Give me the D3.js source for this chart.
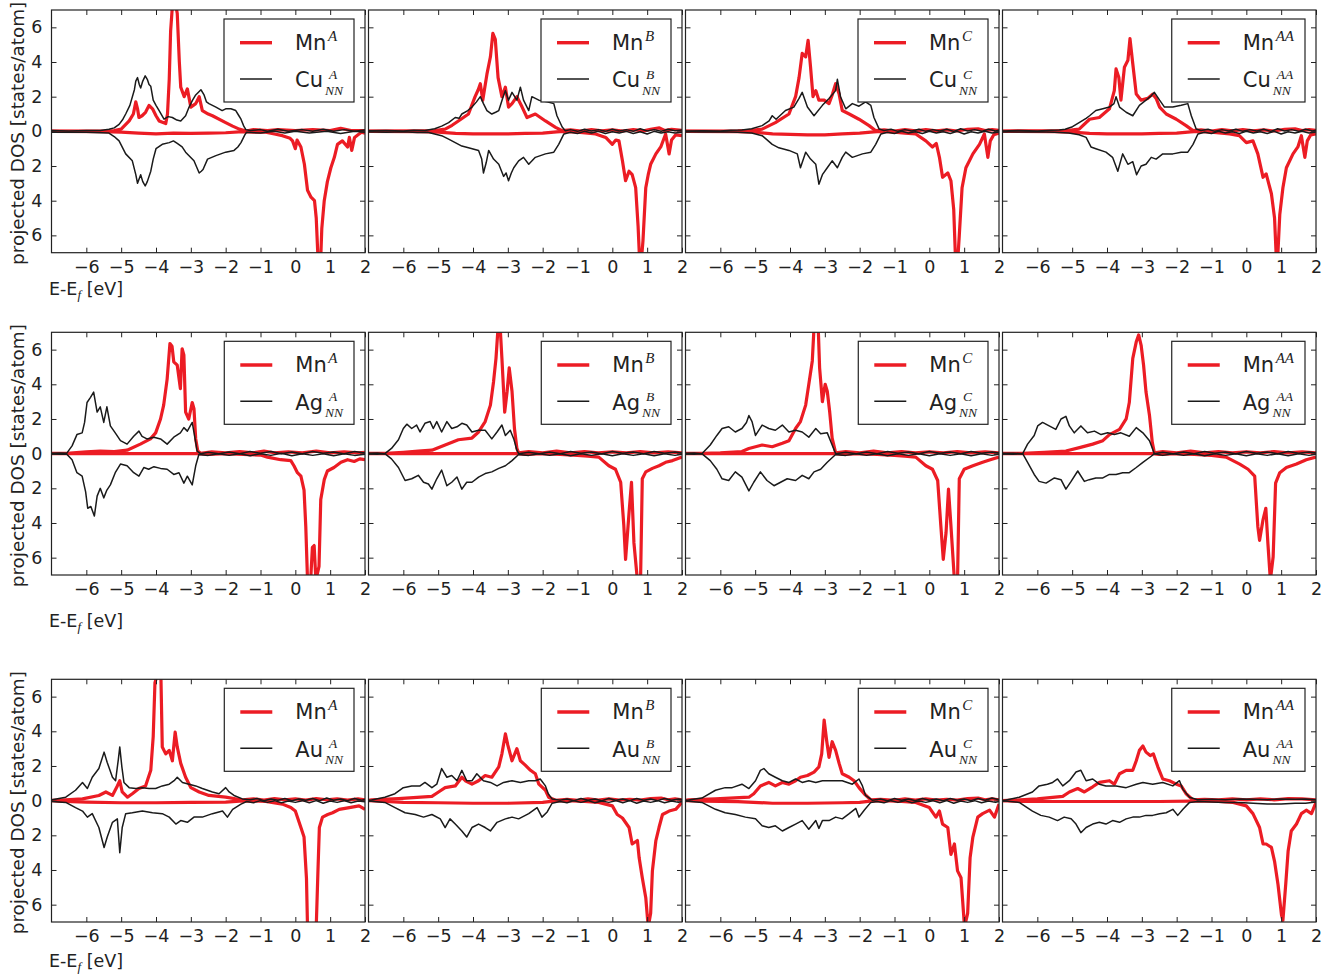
<!DOCTYPE html>
<html><head><meta charset="utf-8">
<script src="https://cdn.jsdelivr.net/npm/d3@7"></script>
<style>body{margin:0;background:#fff}svg{display:block}</style>
</head><body>
<svg id="c" width="1335" height="977"></svg>
<script>
// ---------- axis ticks ----------
const xTicks = [-6,-5,-4,-3,-2,-1,0,1,2];
const yTicks = [-6,-4,-2,0,2,4,6];
const yTickLabels = ["6","4","2","0","2","4","6"];
const elements = ["Cu","Ag","Au"];
const sites = ["A","B","C","AA"];

// ---------- Cu row ----------
const nnUp_CuA = [[-7,0.05],[-6.5,0.02],[-6,0.05],[-5.6,0.05],[-5.35,0.12],[-5.2,0.2],[-5.06,0.4],[-4.95,0.7],[-4.87,1.0],[-4.75,1.5],[-4.62,2.4],[-4.58,2.9],[-4.53,3.1],[-4.48,2.7],[-4.44,2.5],[-4.38,2.9],[-4.31,3.2],[-4.25,3.0],[-4.2,2.7],[-4.15,2.6],[-4.08,1.8],[-4.0,1.5],[-3.91,1.2],[-3.77,0.7],[-3.65,0.85],[-3.53,0.8],[-3.4,0.65],[-3.29,0.6],[-3.15,0.9],[-3.05,1.4],[-2.95,1.8],[-2.86,2.1],[-2.71,2.4],[-2.62,2.1],[-2.55,1.7],[-2.48,1.6],[-2.38,1.5],[-2.28,1.4],[-2.1,1.2],[-2.0,1.3],[-1.85,1.3],[-1.71,1.2],[-1.62,0.9],[-1.56,0.7],[-1.48,0.3],[-1.42,0.1],[-1.3,0.05],[-1.0,0.1],[-0.8,0.0],[-0.5,0.12],[-0.2,0.0],[0.2,0.1],[0.5,0.0],[0.8,0.12],[1.1,0.0],[1.4,0.1],[1.7,0.0],[2,0.08]];
const nnDn_CuA = [[-7,-0.05],[-6,-0.05],[-5.35,-0.1],[-5.2,-0.3],[-5.06,-0.55],[-4.87,-1.3],[-4.68,-1.7],[-4.58,-2.5],[-4.53,-3.0],[-4.44,-2.5],[-4.38,-2.9],[-4.31,-3.15],[-4.25,-2.9],[-4.15,-2.3],[-4.08,-1.6],[-4.0,-1.0],[-3.82,-0.75],[-3.62,-0.65],[-3.5,-0.55],[-3.39,-0.7],[-3.25,-0.9],[-3.15,-1.2],[-2.91,-1.7],[-2.76,-2.4],[-2.7,-2.3],[-2.65,-2.2],[-2.52,-1.6],[-2.28,-1.4],[-2.0,-1.2],[-1.76,-1.1],[-1.65,-0.9],[-1.56,-0.65],[-1.45,-0.2],[-1.4,-0.05],[-1,-0.1],[-0.6,0],[-0.3,-0.1],[0,0],[0.4,-0.1],[0.9,0.0],[1.3,-0.12],[1.7,0],[2,-0.05]];
const mnUp_CuA = [[-7,0.02],[-5.5,0.02],[-5.2,0.05],[-5.0,0.13],[-4.77,0.6],[-4.65,1.0],[-4.58,1.7],[-4.53,1.3],[-4.49,0.8],[-4.4,0.9],[-4.3,1.1],[-4.2,1.5],[-4.1,1.3],[-4.0,0.9],[-3.91,0.6],[-3.72,0.45],[-3.67,1.0],[-3.62,3.0],[-3.58,5.8],[-3.52,7.5],[-3.45,7.5],[-3.39,6.8],[-3.33,4.0],[-3.29,2.55],[-3.19,2.0],[-3.1,2.45],[-3.0,1.4],[-2.86,1.6],[-2.76,2.0],[-2.67,1.2],[-2.5,1.0],[-2.38,0.9],[-2.0,0.5],[-1.8,0.3],[-1.61,0.13],[-1.42,0.02],[-1.2,0.1],[-0.8,0.05],[-0.5,0.1],[0,0.05],[0.5,0.1],[1.0,0.05],[1.3,0.18],[1.6,0.05],[2,0.05]];
const mnDn_CuA = [[-7,0],[-5.5,-0.02],[-5.0,-0.05],[-4.5,-0.1],[-4.0,-0.15],[-3.5,-0.1],[-3.0,-0.12],[-2.5,-0.1],[-2.0,-0.08],[-1.5,-0.02],[-1.2,-0.05],[-0.85,-0.05],[-0.6,-0.15],[-0.37,-0.25],[-0.15,-0.4],[-0.08,-0.55],[0.0,-1.0],[0.05,-0.5],[0.16,-0.9],[0.26,-1.9],[0.35,-3.4],[0.45,-3.8],[0.55,-4.0],[0.6,-5.0],[0.65,-7.3],[0.73,-7.3],[0.76,-5.6],[0.83,-4.0],[0.92,-2.9],[1.02,-2.1],[1.12,-1.5],[1.21,-0.75],[1.35,-0.55],[1.5,-0.9],[1.55,-0.35],[1.62,-1.1],[1.7,-0.35],[1.8,-0.2],[1.9,-0.05],[2,-0.1]];

const nnUp_CuB = [[-7,0.03],[-6.5,0.05],[-6,0.02],[-5.7,0.06],[-5.38,0.05],[-5.1,0.15],[-4.9,0.3],[-4.7,0.5],[-4.51,0.8],[-4.4,0.75],[-4.32,1.0],[-4.15,1.2],[-4.03,1.4],[-3.9,1.7],[-3.79,2.0],[-3.7,1.6],[-3.6,1.2],[-3.46,1.0],[-3.35,1.1],[-3.26,1.2],[-3.15,1.9],[-3.07,2.35],[-2.98,1.8],[-2.88,2.25],[-2.74,1.8],[-2.64,2.55],[-2.55,1.8],[-2.4,1.2],[-2.31,2.0],[-2.11,1.8],[-1.87,1.7],[-1.68,1.6],[-1.59,0.9],[-1.44,0.25],[-1.35,0.04],[-1.2,0.1],[-1.0,0.0],[-0.8,0.12],[-0.6,0.02],[-0.4,0.1],[-0.2,0.0],[0,0.12],[0.2,0.02],[0.4,0.1],[0.6,0.0],[0.8,0.15],[1.0,0.02],[1.2,0.1],[1.4,0.0],[1.6,0.12],[1.8,0.03],[2,0.08]];
const nnDn_CuB = [[-7,-0.03],[-6.5,-0.05],[-6,-0.02],[-5.6,-0.06],[-5.3,-0.05],[-5.1,-0.15],[-4.9,-0.25],[-4.7,-0.45],[-4.51,-0.65],[-4.32,-0.85],[-4.13,-0.95],[-3.84,-1.1],[-3.75,-1.6],[-3.7,-2.4],[-3.62,-1.8],[-3.55,-1.1],[-3.41,-1.6],[-3.26,-1.9],[-3.12,-2.6],[-3.05,-2.4],[-2.98,-2.85],[-2.9,-2.4],[-2.83,-2.1],[-2.69,-1.7],[-2.55,-1.5],[-2.4,-1.9],[-2.21,-1.5],[-1.92,-1.3],[-1.68,-1.2],[-1.54,-0.75],[-1.39,-0.15],[-1.2,-0.05],[-1.0,-0.12],[-0.8,0.0],[-0.6,-0.1],[-0.4,0.0],[-0.2,-0.12],[0,-0.02],[0.2,-0.1],[0.4,0.0],[0.6,-0.12],[0.8,-0.02],[1.0,-0.15],[1.2,0.0],[1.4,-0.1],[1.6,-0.02],[1.8,-0.1],[2,-0.05]];
const mnUp_CuB = [[-7,0.02],[-5.5,0.03],[-5.1,0.05],[-4.8,0.13],[-4.6,0.35],[-4.42,0.6],[-4.13,1.0],[-3.94,2.0],[-3.85,2.4],[-3.79,2.75],[-3.72,1.8],[-3.6,3.3],[-3.5,4.3],[-3.43,5.65],[-3.36,5.3],[-3.28,3.1],[-3.17,2.0],[-3.07,2.55],[-2.98,1.4],[-2.88,1.6],[-2.74,2.0],[-2.59,1.4],[-2.45,0.8],[-2.21,1.0],[-1.92,0.6],[-1.63,0.23],[-1.44,0.04],[-1.2,0.08],[-0.9,0.02],[-0.6,0.1],[-0.3,0.03],[0,0.08],[0.3,0.02],[0.6,0.1],[0.9,0.03],[1.1,0.12],[1.35,0.2],[1.5,0.05],[1.7,0.12],[2,0.05]];
const mnDn_CuB = [[-7,0],[-5.5,-0.02],[-5.0,-0.05],[-4.5,-0.12],[-4.0,-0.15],[-3.5,-0.15],[-3.0,-0.15],[-2.5,-0.12],[-2.0,-0.1],[-1.6,-0.03],[-1.4,0],[-1.0,-0.05],[-0.7,-0.1],[-0.48,-0.15],[-0.19,-0.35],[0,-0.75],[0.1,-0.5],[0.19,-0.55],[0.29,-1.7],[0.38,-2.85],[0.48,-2.3],[0.57,-2.5],[0.67,-3.25],[0.74,-5.5],[0.78,-7.3],[0.84,-7.3],[0.88,-6.3],[0.96,-3.25],[1.03,-2.5],[1.1,-1.9],[1.25,-1.3],[1.39,-0.9],[1.53,-0.15],[1.63,-1.3],[1.7,-0.5],[1.82,-0.2],[2,-0.25]];

const nnUp_CuC = [[-7,0.02],[-6.5,0.04],[-6,0.02],[-5.7,0.06],[-5.38,0.08],[-5.1,0.15],[-4.8,0.33],[-4.6,0.6],[-4.51,0.9],[-4.4,0.7],[-4.13,1.2],[-3.89,1.4],[-3.74,1.9],[-3.65,2.25],[-3.5,1.4],[-3.31,0.9],[-3.07,1.5],[-2.88,1.9],[-2.69,2.35],[-2.64,3.0],[-2.55,2.0],[-2.4,1.3],[-2.21,1.6],[-2.02,1.45],[-1.83,1.7],[-1.68,1.5],[-1.59,0.8],[-1.44,0.13],[-1.3,0.05],[-1.1,0.12],[-0.9,0.0],[-0.7,0.1],[-0.5,0.02],[-0.3,0.12],[-0.1,0.0],[0.1,0.1],[0.3,0.02],[0.5,0.12],[0.7,0.0],[0.9,0.15],[1.1,0.02],[1.3,0.1],[1.5,0.0],[1.7,0.12],[1.9,0.02],[2,0.06]];
const nnDn_CuC = [[-7,-0.02],[-6.5,-0.04],[-6,-0.02],[-5.5,-0.05],[-5.1,-0.1],[-4.8,-0.25],[-4.51,-0.75],[-4.32,-0.95],[-4.03,-1.1],[-3.79,-1.3],[-3.7,-2.1],[-3.55,-1.2],[-3.41,-1.6],[-3.26,-1.9],[-3.17,-3.05],[-3.07,-2.5],[-2.93,-2.1],[-2.79,-1.7],[-2.64,-2.1],[-2.5,-1.5],[-2.4,-1.2],[-2.21,-1.5],[-1.92,-1.3],[-1.68,-1.2],[-1.54,-0.75],[-1.39,-0.15],[-1.2,-0.05],[-1.0,-0.12],[-0.8,0.0],[-0.6,-0.1],[-0.4,-0.02],[-0.2,-0.12],[0,0.0],[0.2,-0.1],[0.4,-0.02],[0.6,-0.12],[0.8,0.0],[1.0,-0.15],[1.2,-0.02],[1.4,-0.1],[1.6,0.0],[1.8,-0.1],[2,-0.04]];
const mnUp_CuC = [[-7,0.02],[-5.5,0.03],[-5.1,0.06],[-4.8,0.13],[-4.42,0.5],[-4.03,1.0],[-3.84,2.0],[-3.74,3.1],[-3.65,4.5],[-3.55,4.3],[-3.48,5.25],[-3.41,3.7],[-3.34,2.0],[-3.26,2.35],[-3.17,1.8],[-3.02,1.8],[-2.88,1.6],[-2.78,2.15],[-2.69,2.75],[-2.59,2.15],[-2.5,1.2],[-2.3,1.0],[-2.02,0.7],[-1.73,0.33],[-1.54,0.04],[-1.3,0.08],[-1.0,0.02],[-0.7,0.1],[-0.4,0.03],[-0.1,0.1],[0.2,0.03],[0.5,0.08],[0.8,0.02],[1.1,0.12],[1.4,0.15],[1.6,0.05],[1.8,0.1],[2,0.05]];
const mnDn_CuC = [[-7,0],[-5.5,-0.02],[-5.0,-0.05],[-4.5,-0.15],[-4.0,-0.18],[-3.5,-0.2],[-3.0,-0.2],[-2.5,-0.15],[-2.0,-0.1],[-1.6,-0.03],[-1.4,0],[-1.0,-0.05],[-0.7,-0.1],[-0.39,-0.15],[-0.1,-0.55],[0.09,-0.9],[0.2,-0.7],[0.29,-1.5],[0.38,-2.65],[0.53,-2.4],[0.62,-2.85],[0.7,-4.5],[0.75,-7.3],[0.82,-7.3],[0.86,-6.0],[0.94,-3.25],[1.05,-2.1],[1.25,-1.3],[1.44,-0.75],[1.58,-0.15],[1.68,-1.5],[1.75,-0.55],[1.85,-0.2],[2,-0.1]];

const nnUp_CuAA = [[-7,0.02],[-6.5,0.05],[-6,0.02],[-5.6,0.06],[-5.37,0.08],[-5.2,0.12],[-4.99,0.27],[-4.8,0.5],[-4.6,0.75],[-4.5,0.9],[-4.32,1.2],[-4.12,1.3],[-3.93,1.4],[-3.8,1.6],[-3.74,2.0],[-3.64,1.4],[-3.45,1.1],[-3.26,0.9],[-3.07,1.5],[-2.88,1.8],[-2.73,2.05],[-2.64,2.25],[-2.49,1.8],[-2.35,1.4],[-2.11,1.4],[-1.87,1.5],[-1.68,1.6],[-1.58,0.9],[-1.44,0.13],[-1.3,0.05],[-1.1,0.12],[-0.9,0.0],[-0.7,0.1],[-0.5,0.02],[-0.3,0.12],[-0.1,0.0],[0.1,0.1],[0.3,0.02],[0.5,0.12],[0.7,0.0],[0.9,0.15],[1.1,0.02],[1.3,0.1],[1.5,0.0],[1.7,0.12],[1.9,0.02],[2,0.06]];
const nnDn_CuAA = [[-7,-0.02],[-6.5,-0.04],[-6,-0.02],[-5.5,-0.05],[-5.1,-0.1],[-4.8,-0.2],[-4.6,-0.35],[-4.46,-0.9],[-4.32,-1.0],[-4.03,-1.2],[-3.84,-1.5],[-3.69,-2.3],[-3.55,-1.3],[-3.4,-1.9],[-3.26,-1.75],[-3.15,-2.5],[-3.02,-2.0],[-2.88,-1.9],[-2.73,-1.5],[-2.59,-1.6],[-2.4,-1.3],[-2.11,-1.3],[-1.87,-1.2],[-1.68,-1.2],[-1.53,-0.75],[-1.39,-0.15],[-1.2,-0.05],[-1.0,-0.12],[-0.8,0.0],[-0.6,-0.1],[-0.4,-0.02],[-0.2,-0.12],[0,0.0],[0.2,-0.1],[0.4,-0.02],[0.6,-0.12],[0.8,0.0],[1.0,-0.15],[1.2,-0.02],[1.4,-0.1],[1.6,0.0],[1.8,-0.1],[2,-0.04]];
const mnUp_CuAA = [[-7,0.02],[-5.5,0.03],[-5.1,0.06],[-4.8,0.13],[-4.5,0.7],[-4.22,0.8],[-3.93,1.3],[-3.79,2.35],[-3.74,3.6],[-3.66,3.1],[-3.6,1.8],[-3.5,3.7],[-3.4,4.1],[-3.34,5.35],[-3.26,3.9],[-3.16,2.15],[-3.02,1.8],[-2.83,1.9],[-2.69,2.15],[-2.59,1.9],[-2.49,1.4],[-2.3,1.0],[-2.01,0.7],[-1.73,0.33],[-1.53,0.04],[-1.3,0.08],[-1.0,0.02],[-0.7,0.1],[-0.4,0.03],[-0.1,0.1],[0.2,0.03],[0.5,0.08],[0.8,0.02],[1.1,0.12],[1.4,0.15],[1.6,0.05],[1.8,0.1],[2,0.05]];
const mnDn_CuAA = [[-7,0],[-5.5,-0.02],[-5.0,-0.05],[-4.5,-0.12],[-4.0,-0.15],[-3.5,-0.15],[-3.0,-0.15],[-2.5,-0.12],[-2.0,-0.1],[-1.6,-0.03],[-1.4,0],[-1.0,-0.05],[-0.48,-0.15],[-0.2,-0.25],[0,-0.65],[0.19,-0.55],[0.33,-1.3],[0.48,-2.65],[0.57,-2.45],[0.72,-3.6],[0.81,-5.0],[0.86,-7.3],[0.9,-7.3],[0.96,-4.8],[1.05,-3.25],[1.15,-2.1],[1.34,-1.3],[1.48,-0.9],[1.58,-0.25],[1.68,-1.5],[1.75,-0.55],[1.85,-0.2],[2,-0.15]];

// ---------- Ag row ----------
const nnUp_AgA = [[-7,0.02],[-6.75,0.04],[-6.56,0.03],[-6.41,0.45],[-6.27,1.1],[-6.12,1.2],[-6.05,1.8],[-5.98,2.95],[-5.88,3.25],[-5.79,3.55],[-5.69,2.4],[-5.6,2.7],[-5.5,1.8],[-5.41,2.7],[-5.31,1.6],[-5.17,1.2],[-5.02,0.75],[-4.83,0.55],[-4.64,1.0],[-4.49,1.3],[-4.4,1.0],[-4.26,0.85],[-4.06,0.95],[-3.87,0.85],[-3.68,0.55],[-3.49,0.95],[-3.3,1.2],[-3.2,1.5],[-3.1,1.3],[-2.96,1.8],[-2.86,0.65],[-2.82,0.15],[-2.72,0.0],[-2.5,0.08],[-2.2,0.0],[-1.9,0.1],[-1.6,0.0],[-1.3,0.12],[-1.0,0.02],[-0.7,0.12],[-0.4,0.0],[-0.1,0.1],[0.2,0.0],[0.5,0.12],[0.8,0.02],[1.1,0.1],[1.4,0.0],[1.7,0.12],[2,0.03]];
const nnDn_AgA = [[-7,-0.02],[-6.75,-0.04],[-6.56,-0.03],[-6.41,-0.35],[-6.27,-1.1],[-6.12,-1.3],[-6.02,-2.2],[-5.96,-3.15],[-5.87,-3.05],[-5.77,-3.6],[-5.69,-2.45],[-5.6,-2.0],[-5.5,-2.55],[-5.41,-2.1],[-5.31,-1.8],[-5.17,-1.1],[-5.02,-0.6],[-4.83,-0.7],[-4.64,-1.1],[-4.49,-1.3],[-4.35,-0.8],[-4.21,-0.9],[-4.06,-0.75],[-3.87,-0.85],[-3.68,-0.9],[-3.49,-1.2],[-3.34,-1.1],[-3.2,-1.7],[-3.1,-1.3],[-2.96,-1.8],[-2.86,-0.7],[-2.77,-0.05],[-2.5,-0.1],[-2.2,0.0],[-1.9,-0.1],[-1.6,0.0],[-1.3,-0.12],[-1.0,0.0],[-0.7,-0.1],[-0.4,0.02],[-0.1,-0.12],[0.2,0.0],[0.5,-0.1],[0.8,0.0],[1.1,-0.12],[1.4,0.0],[1.7,-0.1],[2,-0.03]];
const mnUp_AgA = [[-7,0.02],[-6.56,0.02],[-6.0,0.1],[-5.6,0.15],[-5.2,0.12],[-4.83,0.2],[-4.45,0.55],[-4.16,0.85],[-4.01,1.2],[-3.87,2.0],[-3.78,2.8],[-3.68,4.3],[-3.6,6.35],[-3.54,6.2],[-3.49,5.3],[-3.39,5.1],[-3.3,3.75],[-3.25,6.05],[-3.2,5.7],[-3.15,2.4],[-3.06,2.0],[-2.96,2.95],[-2.91,2.6],[-2.86,0.85],[-2.8,0.15],[-2.72,0.02],[-2.4,0.1],[-2.0,0.05],[-1.6,0.12],[-1.2,0.05],[-0.9,0.15],[-0.6,0.05],[-0.2,0.1],[0.2,0.05],[0.6,0.15],[1.0,0.05],[1.4,0.1],[1.8,0.05],[2,0.08]];
const mnDn_AgA = [[-7,0],[-6.5,0],[-5,0],[-3.5,0],[-2.8,0],[-2.5,-0.05],[-2.0,0.0],[-1.5,-0.05],[-1.0,-0.08],[-0.8,-0.2],[-0.42,-0.35],[-0.13,-0.4],[-0.04,-0.7],[0.06,-1.1],[0.16,-1.3],[0.25,-2.1],[0.3,-4.2],[0.35,-7.3],[0.44,-7.3],[0.49,-5.4],[0.54,-5.3],[0.59,-7.3],[0.68,-6.5],[0.73,-2.65],[0.83,-1.5],[0.92,-1.0],[1.11,-0.8],[1.31,-0.5],[1.5,-0.35],[1.69,-0.45],[1.85,-0.3],[2,-0.35]];

const nnUp_AgB = [[-7,0.02],[-6.75,0.04],[-6.53,0.0],[-6.34,0.3],[-6.14,0.8],[-6.0,1.45],[-5.9,1.7],[-5.76,1.45],[-5.62,1.65],[-5.52,1.25],[-5.38,1.75],[-5.23,1.85],[-5.14,1.45],[-5.04,1.85],[-4.9,1.25],[-4.75,1.85],[-4.61,1.45],[-4.46,1.55],[-4.32,1.75],[-4.18,1.65],[-4.03,1.25],[-3.84,1.35],[-3.65,1.35],[-3.46,0.85],[-3.31,1.25],[-3.17,1.65],[-3.07,1.05],[-2.93,1.35],[-2.83,0.85],[-2.74,0.2],[-2.69,0.0],[-2.4,0.08],[-2.1,0.0],[-1.8,0.1],[-1.5,0.0],[-1.2,0.12],[-0.9,0.02],[-0.6,0.1],[-0.3,0.0],[0,0.12],[0.3,0.02],[0.6,0.1],[0.9,0.0],[1.2,0.12],[1.5,0.02],[1.8,0.1],[2,0.03]];
const nnDn_AgB = [[-7,-0.02],[-6.75,-0.04],[-6.53,0.0],[-6.34,-0.3],[-6.14,-0.8],[-5.95,-1.55],[-5.76,-1.45],[-5.57,-1.25],[-5.42,-1.65],[-5.28,-1.75],[-5.18,-2.05],[-5.04,-1.45],[-4.9,-0.95],[-4.75,-1.85],[-4.61,-1.65],[-4.46,-1.35],[-4.32,-2.05],[-4.18,-1.65],[-4.03,-1.65],[-3.84,-1.35],[-3.65,-1.15],[-3.46,-1.05],[-3.26,-0.85],[-3.07,-0.7],[-2.88,-0.4],[-2.69,-0.05],[-2.4,-0.1],[-2.1,0.0],[-1.8,-0.1],[-1.5,0.0],[-1.2,-0.12],[-0.9,0.0],[-0.6,-0.1],[-0.3,0.0],[0,-0.12],[0.3,0.0],[0.6,-0.1],[0.9,0.0],[1.2,-0.12],[1.5,0.0],[1.8,-0.1],[2,-0.03]];
const mnUp_AgB = [[-7,0.02],[-6.5,0.02],[-6.0,0.08],[-5.57,0.15],[-5.18,0.2],[-4.8,0.5],[-4.42,0.8],[-4.03,0.9],[-3.84,1.25],[-3.65,1.85],[-3.5,2.8],[-3.41,4.15],[-3.34,5.5],[-3.28,7.3],[-3.22,7.3],[-3.17,5.5],[-3.09,2.4],[-3.02,3.6],[-2.96,4.95],[-2.88,3.6],[-2.81,1.45],[-2.74,0.3],[-2.69,0.05],[-2.4,0.12],[-2.0,0.05],[-1.6,0.15],[-1.2,0.05],[-0.8,0.12],[-0.4,0.05],[0.0,0.1],[0.4,0.05],[0.8,0.12],[1.2,0.05],[1.6,0.1],[2,0.05]];
const mnDn_AgB = [[-7,0],[-6.5,0],[-5,0],[-3.5,0],[-2.7,0],[-2.5,-0.05],[-2.0,0.0],[-1.5,-0.05],[-1.0,-0.1],[-0.7,-0.15],[-0.39,-0.2],[-0.1,-0.7],[0.09,-0.9],[0.24,-1.65],[0.33,-4.15],[0.38,-6.1],[0.48,-3.4],[0.55,-1.65],[0.62,-5.15],[0.72,-7.3],[0.81,-7.3],[0.86,-1.45],[0.96,-1.05],[1.15,-0.85],[1.34,-0.7],[1.53,-0.5],[1.73,-0.4],[2,-0.2]];

const nnUp_AgC = [[-7,0.02],[-6.75,0.04],[-6.53,0.0],[-6.29,0.5],[-6.1,1.05],[-5.95,1.45],[-5.76,1.55],[-5.57,1.25],[-5.38,1.45],[-5.25,1.8],[-5.18,2.2],[-5.09,1.85],[-4.99,1.05],[-4.8,1.65],[-4.61,1.45],[-4.42,1.35],[-4.22,1.65],[-4.03,1.25],[-3.84,1.35],[-3.65,1.25],[-3.46,0.95],[-3.26,1.45],[-3.12,1.15],[-2.93,1.2],[-2.79,0.5],[-2.69,0.0],[-2.4,0.08],[-2.1,0.0],[-1.8,0.1],[-1.5,0.0],[-1.2,0.12],[-0.9,0.02],[-0.6,0.1],[-0.3,0.0],[0,0.12],[0.3,0.02],[0.6,0.1],[0.9,0.0],[1.2,0.12],[1.5,0.02],[1.8,0.1],[2,0.03]];
const nnDn_AgC = [[-7,-0.02],[-6.75,-0.04],[-6.53,0.0],[-6.29,-0.4],[-6.1,-0.9],[-5.95,-1.45],[-5.76,-1.55],[-5.57,-1.05],[-5.38,-1.35],[-5.18,-2.15],[-5.04,-1.65],[-4.85,-1.05],[-4.66,-1.55],[-4.46,-1.85],[-4.27,-1.65],[-4.08,-1.45],[-3.84,-1.55],[-3.65,-1.25],[-3.46,-1.45],[-3.31,-1.05],[-3.12,-0.9],[-2.93,-0.5],[-2.69,-0.05],[-2.4,-0.1],[-2.1,0.0],[-1.8,-0.1],[-1.5,0.0],[-1.2,-0.12],[-0.9,0.0],[-0.6,-0.1],[-0.3,0.0],[0,-0.12],[0.3,0.0],[0.6,-0.1],[0.9,0.0],[1.2,-0.12],[1.5,0.0],[1.8,-0.1],[2,-0.03]];
const mnUp_AgC = [[-7,0.02],[-6.5,0.02],[-6.0,0.05],[-5.38,0.12],[-5.18,0.3],[-4.8,0.5],[-4.51,0.4],[-4.22,0.6],[-4.03,0.75],[-3.84,1.45],[-3.7,1.85],[-3.55,2.8],[-3.46,4.0],[-3.36,5.35],[-3.31,7.3],[-3.19,7.3],[-3.15,4.95],[-3.07,3.0],[-2.99,4.0],[-2.93,3.6],[-2.86,2.4],[-2.79,0.9],[-2.69,0.05],[-2.4,0.12],[-2.0,0.05],[-1.6,0.15],[-1.2,0.05],[-0.8,0.12],[-0.4,0.05],[0.0,0.1],[0.4,0.05],[0.8,0.12],[1.2,0.05],[1.6,0.1],[2,0.05]];
const mnDn_AgC = [[-7,0],[-6.5,0],[-5,0],[-3.5,0],[-2.7,0],[-2.5,-0.05],[-2.0,0.0],[-1.5,-0.05],[-1.0,-0.1],[-0.7,-0.15],[-0.39,-0.2],[-0.1,-0.7],[0.09,-0.9],[0.24,-1.55],[0.33,-4.15],[0.4,-6.1],[0.48,-4.55],[0.55,-2.05],[0.62,-4.15],[0.72,-7.3],[0.81,-7.3],[0.86,-1.45],[1.0,-0.9],[1.25,-0.7],[1.53,-0.5],[1.75,-0.35],[2,-0.2]];

const nnUp_AgAA = [[-7,0.02],[-6.7,0.03],[-6.42,0.0],[-6.28,0.55],[-6.09,1.05],[-5.99,1.6],[-5.85,1.8],[-5.66,1.6],[-5.47,1.4],[-5.32,2.0],[-5.18,2.15],[-5.08,1.6],[-4.94,1.2],[-4.75,1.6],[-4.56,1.2],[-4.36,1.3],[-4.17,1.1],[-3.98,1.2],[-3.79,1.1],[-3.6,1.2],[-3.36,1.0],[-3.16,1.5],[-2.97,1.2],[-2.78,0.75],[-2.64,0.0],[-2.4,0.08],[-2.1,0.0],[-1.8,0.1],[-1.5,0.0],[-1.2,0.12],[-0.9,0.02],[-0.6,0.1],[-0.3,0.0],[0,0.12],[0.3,0.02],[0.6,0.1],[0.9,0.0],[1.2,0.12],[1.5,0.02],[1.8,0.1],[2,0.03]];
const nnDn_AgAA = [[-7,-0.02],[-6.7,-0.03],[-6.42,0.0],[-6.28,-0.5],[-6.09,-1.2],[-5.95,-1.6],[-5.75,-1.7],[-5.51,-1.4],[-5.32,-1.5],[-5.18,-2.05],[-5.03,-1.6],[-4.84,-1.0],[-4.65,-1.6],[-4.51,-1.5],[-4.32,-1.4],[-4.12,-1.4],[-3.93,-1.2],[-3.74,-1.2],[-3.55,-1.1],[-3.36,-1.1],[-3.16,-0.8],[-2.97,-0.5],[-2.73,-0.15],[-2.64,0.0],[-2.4,-0.1],[-2.1,0.0],[-1.8,-0.1],[-1.5,0.0],[-1.2,-0.12],[-0.9,0.0],[-0.6,-0.1],[-0.3,0.0],[0,-0.12],[0.3,0.0],[0.6,-0.1],[0.9,0.0],[1.2,-0.12],[1.5,0.0],[1.8,-0.1],[2,-0.03]];
const mnUp_AgAA = [[-7,0.02],[-6.42,0.02],[-5.8,0.08],[-5.18,0.15],[-4.79,0.35],[-4.41,0.55],[-4.12,0.75],[-3.93,1.1],[-3.64,1.4],[-3.45,2.0],[-3.36,2.95],[-3.26,5.5],[-3.16,6.45],[-3.09,6.85],[-3.02,6.25],[-2.95,5.1],[-2.88,3.55],[-2.78,2.2],[-2.7,0.65],[-2.64,0.05],[-2.4,0.12],[-2.0,0.05],[-1.6,0.15],[-1.2,0.05],[-0.8,0.12],[-0.4,0.05],[0.0,0.1],[0.4,0.05],[0.8,0.12],[1.2,0.05],[1.6,0.1],[2,0.05]];
const mnDn_AgAA = [[-7,0],[-6.5,0],[-5,0],[-3.5,0],[-2.7,0],[-2.5,-0.05],[-2.0,0.0],[-1.5,-0.05],[-1.0,-0.1],[-0.58,-0.2],[-0.19,-0.6],[0.05,-0.9],[0.24,-1.3],[0.33,-4.2],[0.38,-5.0],[0.48,-3.8],[0.56,-3.15],[0.62,-5.2],[0.69,-7.3],[0.77,-5.95],[0.84,-1.7],[0.96,-1.1],[1.15,-0.8],[1.44,-0.6],[1.72,-0.35],[2,-0.2]];

// ---------- Au row ----------
const nnUp_AuA = [[-7,0.03],[-6.98,0.05],[-6.59,0.2],[-6.31,0.6],[-6.11,1.05],[-5.97,0.7],[-5.83,1.35],[-5.64,1.85],[-5.49,2.8],[-5.4,2.2],[-5.25,1.35],[-5.16,1.15],[-5.08,2.4],[-5.04,3.1],[-4.98,1.95],[-4.92,1.05],[-4.77,0.75],[-4.58,0.7],[-4.39,0.75],[-4.2,0.7],[-4.01,0.7],[-3.82,0.85],[-3.62,0.95],[-3.48,1.15],[-3.39,1.35],[-3.24,1.05],[-3.05,0.95],[-2.86,0.85],[-2.67,0.7],[-2.38,0.5],[-2.19,0.4],[-2.0,0.75],[-1.9,0.5],[-1.76,0.3],[-1.52,0.1],[-1.3,0.05],[-1.1,0.12],[-0.9,0.0],[-0.7,0.1],[-0.5,0.02],[-0.3,0.12],[-0.1,0.0],[0.1,0.1],[0.3,0.02],[0.5,0.12],[0.7,0.0],[0.9,0.15],[1.1,0.02],[1.3,0.1],[1.5,0.0],[1.7,0.12],[1.9,0.02],[2,0.06]];
const nnDn_AuA = [[-7,-0.03],[-6.98,-0.05],[-6.59,-0.1],[-6.31,-0.4],[-6.11,-0.6],[-5.97,-0.95],[-5.83,-0.75],[-5.64,-1.55],[-5.49,-2.7],[-5.4,-2.1],[-5.25,-1.25],[-5.11,-1.05],[-5.04,-3.0],[-4.97,-1.55],[-4.87,-0.75],[-4.68,-0.7],[-4.39,-0.6],[-4.1,-0.7],[-3.82,-0.75],[-3.62,-0.95],[-3.43,-1.35],[-3.29,-1.15],[-3.1,-1.25],[-2.91,-0.95],[-2.67,-0.95],[-2.38,-0.75],[-2.09,-0.6],[-1.95,-0.95],[-1.8,-0.5],[-1.56,-0.2],[-1.4,-0.05],[-1.2,-0.12],[-1.0,0.0],[-0.8,-0.1],[-0.6,0.0],[-0.4,-0.12],[-0.2,-0.02],[0,-0.1],[0.2,0.0],[0.4,-0.12],[0.6,0.0],[0.8,-0.15],[1.0,-0.02],[1.2,-0.1],[1.4,0.0],[1.6,-0.12],[1.8,-0.02],[2,-0.06]];
const mnUp_AuA = [[-7,0.02],[-6.6,0.05],[-6.11,0.1],[-5.64,0.3],[-5.44,0.5],[-5.25,0.3],[-5.11,0.85],[-5.04,1.15],[-4.97,0.5],[-4.82,0.2],[-4.68,0.4],[-4.49,0.7],[-4.3,0.85],[-4.15,1.75],[-4.08,3.7],[-4.03,6.8],[-3.96,7.3],[-3.86,7.3],[-3.82,3.1],[-3.72,2.7],[-3.62,2.9],[-3.53,2.3],[-3.45,3.95],[-3.39,3.1],[-3.29,2.15],[-3.15,1.35],[-3.0,0.75],[-2.76,0.5],[-2.48,0.3],[-2.0,0.2],[-1.52,0.04],[-1.2,0.1],[-0.9,0.03],[-0.6,0.12],[-0.3,0.05],[0,0.1],[0.3,0.03],[0.6,0.12],[0.9,0.05],[1.2,0.1],[1.5,0.03],[1.8,0.1],[2,0.05]];
const mnDn_AuA = [[-7,0],[-6.8,-0.03],[-6.0,-0.08],[-5.0,-0.12],[-4.0,-0.12],[-3.0,-0.1],[-2.0,-0.08],[-1.6,-0.03],[-1.2,-0.02],[-0.85,-0.04],[-0.37,-0.2],[-0.13,-0.4],[0.0,-0.6],[0.16,-1.55],[0.25,-2.1],[0.32,-4.5],[0.35,-7.3],[0.6,-7.3],[0.65,-4.0],[0.69,-1.55],[0.78,-0.95],[0.93,-0.8],[1.07,-0.7],[1.26,-0.5],[1.55,-0.4],[1.83,-0.3],[2,-0.5]];

const nnUp_AuB = [[-7,0.02],[-6.91,0.04],[-6.53,0.2],[-6.24,0.4],[-6.0,0.75],[-5.76,0.85],[-5.52,0.85],[-5.38,1.05],[-5.18,0.75],[-5.04,0.95],[-4.9,1.85],[-4.75,1.35],[-4.61,1.45],[-4.46,1.15],[-4.32,1.75],[-4.18,1.15],[-4.03,1.15],[-3.89,1.55],[-3.7,1.15],[-3.5,1.05],[-3.31,0.85],[-3.12,1.05],[-2.88,1.15],[-2.64,1.05],[-2.4,1.15],[-2.21,1.15],[-2.07,1.25],[-1.92,0.85],[-1.84,0.4],[-1.73,0.1],[-1.5,0.03],[-1.3,0.1],[-1.1,0.0],[-0.9,0.12],[-0.7,0.02],[-0.5,0.1],[-0.3,0.0],[-0.1,0.12],[0.1,0.02],[0.3,0.1],[0.5,0.0],[0.7,0.12],[0.9,0.02],[1.1,0.1],[1.3,0.0],[1.5,0.12],[1.7,0.02],[1.9,0.1],[2,0.05]];
const nnDn_AuB = [[-7,-0.02],[-6.91,-0.04],[-6.53,-0.1],[-6.24,-0.4],[-5.95,-0.7],[-5.66,-0.8],[-5.42,-0.95],[-5.18,-0.8],[-4.94,-1.05],[-4.8,-1.55],[-4.66,-1.05],[-4.51,-1.35],[-4.32,-1.75],[-4.18,-2.1],[-4.03,-1.55],[-3.84,-1.35],[-3.65,-1.55],[-3.5,-1.75],[-3.31,-1.25],[-3.07,-1.05],[-2.88,-0.95],[-2.69,-1.05],[-2.4,-0.75],[-2.16,-0.4],[-2.02,-0.95],[-1.87,-0.65],[-1.73,-0.15],[-1.5,-0.05],[-1.3,-0.12],[-1.1,0.0],[-0.9,-0.1],[-0.7,0.0],[-0.5,-0.12],[-0.3,-0.02],[-0.1,-0.1],[0.1,0.0],[0.3,-0.12],[0.5,0.0],[0.7,-0.15],[0.9,-0.02],[1.1,-0.1],[1.3,0.0],[1.5,-0.12],[1.7,-0.02],[1.9,-0.1],[2,-0.05]];
const mnUp_AuB = [[-7,0.02],[-6.91,0.04],[-6.14,0.12],[-5.18,0.25],[-4.99,0.5],[-4.8,0.75],[-4.51,0.85],[-4.32,1.35],[-4.22,1.15],[-4.03,0.95],[-3.84,1.15],[-3.65,1.45],[-3.46,1.35],[-3.26,1.95],[-3.17,2.7],[-3.07,3.85],[-3.0,3.2],[-2.88,2.3],[-2.74,3.0],[-2.64,2.3],[-2.5,2.05],[-2.35,1.75],[-2.21,1.55],[-2.11,0.95],[-1.92,0.6],[-1.83,0.2],[-1.63,0.02],[-1.3,0.08],[-1.0,0.02],[-0.7,0.1],[-0.4,0.03],[-0.1,0.1],[0.2,0.03],[0.5,0.08],[0.8,0.03],[1.1,0.12],[1.4,0.15],[1.6,0.05],[1.8,0.1],[2,0.05]];
const mnDn_AuB = [[-7,0],[-6.5,-0.05],[-6.0,-0.1],[-5.0,-0.12],[-4.0,-0.15],[-3.0,-0.15],[-2.0,-0.1],[-1.7,-0.03],[-1.3,0.0],[-0.8,-0.05],[-0.39,-0.1],[0.0,-0.3],[0.14,-0.8],[0.29,-1.0],[0.48,-1.55],[0.57,-2.5],[0.72,-2.3],[0.77,-3.3],[0.86,-4.45],[0.96,-5.6],[1.03,-7.3],[1.1,-6.5],[1.15,-4.05],[1.25,-2.3],[1.34,-1.55],[1.44,-0.8],[1.63,-0.6],[1.82,-0.5],[2,-0.1]];

const nnUp_AuC = [[-7,0.02],[-6.91,0.04],[-6.53,0.15],[-6.14,0.6],[-5.86,0.75],[-5.66,0.75],[-5.38,0.95],[-5.18,0.7],[-4.99,1.15],[-4.85,1.75],[-4.75,1.85],[-4.61,1.55],[-4.42,1.35],[-4.22,1.15],[-4.03,1.05],[-3.84,1.25],[-3.65,1.05],[-3.46,1.15],[-3.26,1.05],[-3.07,1.15],[-2.79,1.15],[-2.5,1.15],[-2.21,0.95],[-2.02,1.25],[-1.92,0.85],[-1.83,0.3],[-1.63,0.02],[-1.4,0.1],[-1.2,0.0],[-1.0,0.12],[-0.8,0.02],[-0.6,0.1],[-0.4,0.0],[-0.2,0.12],[0.0,0.02],[0.2,0.1],[0.4,0.0],[0.6,0.12],[0.8,0.02],[1.0,0.1],[1.2,0.0],[1.4,0.12],[1.6,0.02],[1.8,0.15],[2,0.05]];
const nnDn_AuC = [[-7,-0.02],[-6.91,-0.04],[-6.53,-0.1],[-6.14,-0.5],[-5.86,-0.7],[-5.57,-0.8],[-5.28,-0.95],[-4.99,-1.05],[-4.8,-1.45],[-4.61,-1.55],[-4.42,-1.45],[-4.22,-1.75],[-4.03,-1.55],[-3.84,-1.35],[-3.65,-1.15],[-3.46,-1.65],[-3.26,-1.15],[-3.17,-1.6],[-3.07,-1.15],[-2.88,-1.15],[-2.69,-0.95],[-2.5,-1.05],[-2.3,-0.75],[-2.11,-0.45],[-2.02,-0.95],[-1.87,-0.55],[-1.68,-0.1],[-1.5,-0.05],[-1.3,-0.12],[-1.1,0.0],[-0.9,-0.1],[-0.7,0.0],[-0.5,-0.12],[-0.3,-0.02],[-0.1,-0.1],[0.1,0.0],[0.3,-0.12],[0.5,0.0],[0.7,-0.15],[0.9,-0.02],[1.1,-0.1],[1.3,0.0],[1.5,-0.12],[1.7,-0.02],[1.9,-0.1],[2,-0.05]];
const mnUp_AuC = [[-7,0.02],[-6.91,0.04],[-6.14,0.1],[-5.18,0.2],[-5.04,0.4],[-4.85,0.85],[-4.61,1.05],[-4.42,0.85],[-4.22,1.05],[-4.03,0.95],[-3.84,1.15],[-3.7,1.35],[-3.5,1.45],[-3.31,1.65],[-3.17,1.95],[-3.09,2.7],[-3.02,4.65],[-2.95,3.5],[-2.88,2.5],[-2.79,3.4],[-2.69,2.9],[-2.59,2.15],[-2.5,1.55],[-2.3,1.35],[-2.16,1.15],[-2.02,0.75],[-1.87,0.4],[-1.68,0.04],[-1.4,0.08],[-1.0,0.02],[-0.7,0.1],[-0.4,0.03],[-0.1,0.1],[0.2,0.03],[0.5,0.08],[0.8,0.03],[1.1,0.12],[1.4,0.15],[1.6,0.05],[1.8,0.1],[2,0.05]];
const mnDn_AuC = [[-7,0],[-6.5,-0.03],[-5.5,-0.06],[-5.2,-0.08],[-4.5,-0.15],[-3.5,-0.15],[-2.5,-0.12],[-2.0,-0.1],[-1.7,-0.03],[-1.3,0.0],[-0.8,-0.05],[-0.39,-0.1],[0.0,-0.4],[0.19,-0.95],[0.29,-0.6],[0.38,-1.35],[0.53,-1.55],[0.62,-3.1],[0.72,-2.5],[0.81,-4.05],[0.91,-4.45],[1.01,-7.3],[1.1,-6.5],[1.17,-3.3],[1.25,-2.1],[1.39,-0.95],[1.53,-0.75],[1.73,-0.55],[1.87,-0.95],[2,-0.2]];

const nnUp_AuAA = [[-7,0.0],[-6.52,0.2],[-6.14,0.5],[-5.95,0.85],[-5.71,0.95],[-5.56,1.05],[-5.42,1.25],[-5.27,0.85],[-5.08,1.15],[-4.89,1.65],[-4.75,1.75],[-4.6,1.15],[-4.41,1.25],[-4.22,0.95],[-4.03,0.85],[-3.74,0.85],[-3.45,0.75],[-3.16,0.95],[-2.97,1.05],[-2.69,0.95],[-2.4,1.05],[-2.11,0.85],[-1.92,1.15],[-1.82,0.65],[-1.63,0.2],[-1.4,0.05],[-1.0,0.08],[-0.6,0.05],[-0.2,0.1],[0.2,0.08],[0.6,0.05],[1.0,0.1],[1.4,0.08],[1.7,0.1],[2,0.05]];
const nnDn_AuAA = [[-7,0.0],[-6.52,-0.1],[-6.14,-0.6],[-5.9,-0.85],[-5.66,-0.95],[-5.42,-1.15],[-5.23,-0.95],[-5.03,-1.05],[-4.89,-1.35],[-4.75,-1.85],[-4.6,-1.55],[-4.41,-1.35],[-4.22,-1.25],[-4.03,-1.35],[-3.84,-1.15],[-3.64,-1.25],[-3.45,-1.05],[-3.26,-0.95],[-3.07,-0.95],[-2.88,-0.85],[-2.69,-0.85],[-2.49,-0.75],[-2.3,-0.7],[-2.11,-0.5],[-1.97,-0.85],[-1.82,-0.5],[-1.63,-0.1],[-1.4,-0.05],[-1.0,-0.08],[-0.6,-0.1],[-0.2,-0.1],[0.2,-0.15],[0.6,-0.2],[1.0,-0.2],[1.4,-0.15],[1.7,-0.15],[2,-0.08]];
const mnUp_AuAA = [[-7,0.0],[-6.5,0.05],[-6.0,0.1],[-5.27,0.25],[-5.08,0.5],[-4.84,0.7],[-4.65,0.5],[-4.41,0.8],[-4.22,1.05],[-3.93,1.15],[-3.79,0.95],[-3.64,1.55],[-3.45,1.75],[-3.26,1.75],[-3.16,2.3],[-3.07,2.9],[-2.97,3.15],[-2.88,2.8],[-2.76,2.6],[-2.67,2.7],[-2.54,1.95],[-2.4,1.25],[-2.21,1.15],[-2.01,0.95],[-1.87,0.85],[-1.73,0.4],[-1.53,0.04],[-1.2,0.08],[-0.8,0.05],[-0.4,0.1],[0,0.05],[0.4,0.1],[0.8,0.05],[1.2,0.12],[1.6,0.1],[2,0.05]];
const mnDn_AuAA = [[-7,0],[-6.5,-0.05],[-5.5,-0.05],[-4.5,-0.05],[-3.5,-0.05],[-2.5,-0.05],[-1.6,-0.03],[-1.2,-0.02],[-0.8,-0.05],[-0.38,-0.1],[0.0,-0.3],[0.19,-0.75],[0.38,-1.55],[0.48,-2.5],[0.57,-2.5],[0.72,-2.7],[0.81,-3.5],[0.91,-4.85],[1.01,-6.6],[1.05,-6.9],[1.13,-4.85],[1.2,-2.9],[1.29,-1.75],[1.44,-1.35],[1.58,-0.75],[1.72,-0.55],[1.87,-0.75],[2,-0.1]];

// table built from the arrays above
const series = {
  Cu:{A:[mnUp_CuA,mnDn_CuA,nnUp_CuA,nnDn_CuA],B:[mnUp_CuB,mnDn_CuB,nnUp_CuB,nnDn_CuB],C:[mnUp_CuC,mnDn_CuC,nnUp_CuC,nnDn_CuC],AA:[mnUp_CuAA,mnDn_CuAA,nnUp_CuAA,nnDn_CuAA]},
  Ag:{A:[mnUp_AgA,mnDn_AgA,nnUp_AgA,nnDn_AgA],B:[mnUp_AgB,mnDn_AgB,nnUp_AgB,nnDn_AgB],C:[mnUp_AgC,mnDn_AgC,nnUp_AgC,nnDn_AgC],AA:[mnUp_AgAA,mnDn_AgAA,nnUp_AgAA,nnDn_AgAA]},
  Au:{A:[mnUp_AuA,mnDn_AuA,nnUp_AuA,nnDn_AuA],B:[mnUp_AuB,mnDn_AuB,nnUp_AuB,nnDn_AuB],C:[mnUp_AuC,mnDn_AuC,nnUp_AuC,nnDn_AuC],AA:[mnUp_AuAA,mnDn_AuAA,nnUp_AuAA,nnDn_AuAA]}
};

// ---------- drawing ----------
const RED = "#ec1c24", BLK = "#1a1a1a", FONT = "DejaVu Sans, sans-serif", MATH = "Liberation Serif, serif";
const svg = d3.select("#c");
const W = 313.5, H = 242.7;
const colX = [51.5, 368.5, 685.5, 1002.5];
const rowY = [10, 332.3, 679.3];
const xLabBase = [295, 627, 967];
const x = d3.scaleLinear().domain([-7,2]).range([0,W]);
const y = d3.scaleLinear().domain([-7,7]).range([H,0]);
const line = d3.line().x(d=>x(d[0])).y(d=>y(d[1]));
const fmtX = d => d < 0 ? "\u2212" + Math.abs(d) : String(d);

elements.forEach((el, r) => {
  sites.forEach((site, c) => {
    const g = svg.append("g").attr("transform", `translate(${colX[c]},${rowY[r]})`);
    const cid = `clip${r}${c}`;
    g.append("clipPath").attr("id", cid).append("rect").attr("width", W).attr("height", H);
    const plot = g.append("g").attr("clip-path", `url(#${cid})`);
    const [mU, mD, nU, nD] = series[el][site];
    [mU, mD].forEach(s => plot.append("path").datum(s).attr("d", line)
      .attr("fill","none").attr("stroke",RED).attr("stroke-width",3.2).attr("stroke-linejoin","round"));
    [nU, nD].forEach(s => plot.append("path").datum(s).attr("d", line)
      .attr("fill","none").attr("stroke",BLK).attr("stroke-width",1.5).attr("stroke-linejoin","round"));

    // axes (inward ticks on all sides)
    const ax = [
      g.append("g").attr("transform",`translate(0,${H})`).call(d3.axisBottom(x).tickValues(xTicks).tickSize(-5).tickPadding(7.5).tickFormat(fmtX)),
      g.append("g").call(d3.axisTop(x).tickValues(xTicks).tickSize(-5).tickFormat("")),
      g.append("g").call(d3.axisLeft(y).tickValues(yTicks).tickSize(-5).tickPadding(9).tickFormat(c===0 ? ((d,i)=>yTickLabels[i]) : "")),
      g.append("g").attr("transform",`translate(${W},0)`).call(d3.axisRight(y).tickValues(yTicks).tickSize(-5).tickFormat(""))
    ];
    ax.forEach(a => {
      a.select(".domain").remove();
      a.selectAll("line").attr("stroke","#222").attr("stroke-width",1);
      a.selectAll("text").attr("font-family",FONT).attr("font-size",17.5).attr("fill","#222");
    });
    g.append("rect").attr("width",W).attr("height",H).attr("fill","none").attr("stroke","#222").attr("stroke-width",1.2);

    // legend
    const lg = g.append("g");
    const box = lg.append("rect").attr("fill","#fff").attr("stroke","#222").attr("stroke-width",1.2);
    lg.append("line").attr("x1",16).attr("x2",48).attr("y1",23.7).attr("y2",23.7).attr("stroke",RED).attr("stroke-width",3.4);
    lg.append("line").attr("x1",16).attr("x2",48).attr("y1",60).attr("y2",60).attr("stroke",BLK).attr("stroke-width",1.5);
    const t1 = lg.append("text").attr("x",71).attr("y",31).attr("font-family",FONT).attr("font-size",21).attr("fill","#222").text("Mn");
    const w1 = t1.node().getComputedTextLength();
    const s1 = lg.append("text").attr("x",71+w1+1.5).attr("y",21.5).attr("font-family",MATH).attr("font-style","italic").attr("font-size",15).attr("fill","#222").text(site);
    const t2 = lg.append("text").attr("x",71).attr("y",68.3).attr("font-family",FONT).attr("font-size",21).attr("fill","#222").text(el);
    const w2 = t2.node().getComputedTextLength();
    const s2 = lg.append("text").attr("x",71+w2+6).attr("y",59.5).attr("font-family",MATH).attr("font-style","italic").attr("font-size",13.5).attr("fill","#222").text(site);
    const s3 = lg.append("text").attr("x",71+w2+2).attr("y",75.5).attr("font-family",MATH).attr("font-style","italic").attr("font-size",13.5).attr("fill","#222").text("NN");
    const endX = Math.max(71+w1+1.5+s1.node().getComputedTextLength(), 71+w2+6+s2.node().getComputedTextLength(), 71+w2+2+s3.node().getComputedTextLength());
    const bw = endX + 11, bh = 83;
    box.attr("width",bw).attr("height",bh);
    lg.attr("transform",`translate(${W-11-bw},9)`);
  });

  // y label
  svg.append("text").attr("transform",`translate(24,${rowY[r]+H/2+2}) rotate(-90)`)
    .attr("text-anchor","middle").attr("font-family",FONT).attr("font-size",18.4).attr("fill","#222")
    .text("projected DOS [states/atom]");
  // x label
  const xl = svg.append("text").attr("x",49).attr("y",xLabBase[r]).attr("font-family",FONT).attr("font-size",17.5).attr("fill","#222");
  xl.append("tspan").text("E-E");
  xl.append("tspan").attr("font-family",MATH).attr("font-style","italic").attr("font-size",13).attr("dy",3.5).text("f");
  xl.append("tspan").attr("dy",-3.5).text(" [eV]");
});
</script>
</body></html>
